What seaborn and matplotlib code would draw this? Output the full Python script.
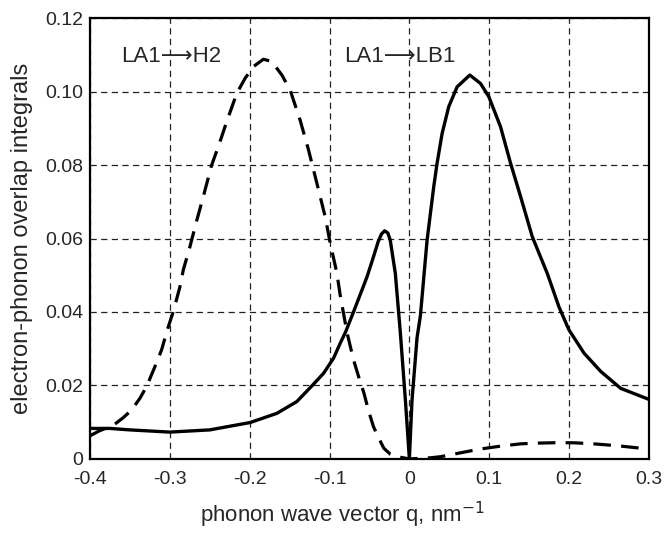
import numpy as np
import pandas as pd
import matplotlib
matplotlib.use("Agg")
import matplotlib.pyplot as plt
import seaborn as sns

# LA1 -> LB1 (solid curve)
q_lb1 = [-0.4, -0.375, -0.35, -0.3, -0.25, -0.1995, -0.166, -0.141, -0.122, -0.1075,
         -0.095, -0.0866, -0.08, -0.07, -0.062, -0.053, -0.045, -0.039, -0.035, -0.031,
         -0.027, -0.024, -0.0176, -0.0113, -0.005, 0.0, 0.0033, 0.0096, 0.0138, 0.0222,
         0.0305, 0.0347, 0.041, 0.0493, 0.0598, 0.0757, 0.0891, 0.0995, 0.1142, 0.1267,
         0.1393, 0.1539, 0.1727, 0.1873, 0.1999, 0.2187, 0.2397, 0.2647, 0.3]
ov_lb1 = [0.0083, 0.0083, 0.0079, 0.0073, 0.0079, 0.0099, 0.0124, 0.0156, 0.0199, 0.0233,
          0.0274, 0.0315, 0.0345, 0.0400, 0.0445, 0.0496, 0.0550, 0.0592, 0.0612, 0.0621,
          0.0615, 0.0596, 0.0505, 0.0343, 0.0160, 0.0, 0.0160, 0.0330, 0.0390, 0.0596,
          0.0741, 0.0805, 0.0886, 0.0959, 0.1013, 0.1045, 0.1022, 0.0986, 0.0904, 0.0805,
          0.0714, 0.0605, 0.0505, 0.0414, 0.0351, 0.0288, 0.0238, 0.0192, 0.0162]

# LA1 -> H2 (dashed curve)
q_h2 = [-0.4, -0.3877, -0.371, -0.3585, -0.3479, -0.3375, -0.3291, -0.3187, -0.3103, -0.3032,
        -0.2957, -0.2873, -0.2832, -0.2748, -0.2673, -0.2581, -0.2476, -0.2393, -0.2288, -0.2162,
        -0.2058, -0.1954, -0.1828, -0.1723, -0.1597, -0.1493, -0.1368, -0.1263, -0.1158, -0.1054,
        -0.0991, -0.0907, -0.0866, -0.078, -0.07, -0.063, -0.057, -0.051, -0.045, -0.038,
        -0.032, -0.024, -0.015, 0.0, 0.026, 0.039, 0.065, 0.089, 0.115, 0.139,
        0.16, 0.181, 0.205, 0.231, 0.26, 0.286, 0.3]
ov_h2 = [0.0063, 0.0077, 0.0091, 0.0112, 0.0133, 0.0165, 0.0197, 0.0251, 0.0297, 0.0351,
         0.0401, 0.0469, 0.0514, 0.0578, 0.0641, 0.0714, 0.0800, 0.0850, 0.0918, 0.0995,
         0.1036, 0.1068, 0.1088, 0.1082, 0.1045, 0.1004, 0.0922, 0.0841, 0.0750, 0.0659,
         0.0587, 0.0505, 0.0445, 0.0343, 0.0270, 0.0220, 0.0180, 0.0130, 0.0088, 0.0055,
         0.0029, 0.0013, 0.0006, 0.0, 0.0003, 0.0006, 0.0017, 0.0027, 0.0035, 0.0041,
         0.0043, 0.0044, 0.0044, 0.0041, 0.0036, 0.0030, 0.0024]

x_ticks = [-0.4, -0.3, -0.2, -0.1, 0.0, 0.1, 0.2, 0.3]
x_ticklabels = ["-0.4", "-0.3", "-0.2", "-0.1", "0", "0.1", "0.2", "0.3"]
y_ticks = [0.0, 0.02, 0.04, 0.06, 0.08, 0.10, 0.12]
y_ticklabels = ["0", "0.02", "0.04", "0.06", "0.08", "0.10", "0.12"]

sns.set_style("white")
plt.rcParams['font.family'] = ['Liberation Sans', 'DejaVu Sans']

fig = plt.figure(figsize=(6.69, 5.33), dpi=100)
ax = fig.add_axes([0.1345, 0.139, 0.8355, 0.827])

sns.lineplot(x=q_lb1, y=ov_lb1, ax=ax, color="black", linewidth=2.4, sort=False)
sns.lineplot(x=q_h2, y=ov_h2, ax=ax, color="black", linewidth=2.3, sort=False)
ax.lines[-1].set_dashes((5.5, 3.2))

ax.set_xlim(-0.4, 0.3)
ax.set_ylim(0, 0.12)
ax.set_xticks(x_ticks)
ax.set_xticklabels(x_ticklabels)
ax.set_yticks(y_ticks)
ax.set_yticklabels(y_ticklabels)
ax.tick_params(axis='both', labelsize=14, length=0)
ax.tick_params(axis='x', pad=9)
ax.tick_params(axis='y', pad=5)

ax.grid(True, color="#222222", linestyle=(0, (5, 3.5)), linewidth=0.9)
ax.set_axisbelow(True)
for s in ax.spines.values():
    s.set_visible(True)
    s.set_color("black")
    s.set_linewidth(1.6)

ax.set_xlabel("phonon wave vector q, nm$^{-1}$", fontsize=16)
ax.xaxis.set_label_coords(0.452, -0.093)
ax.set_ylabel("electron-phonon overlap integrals", fontsize=17)
ax.yaxis.set_label_coords(-0.102, 0.5)

ax.text(-0.361, 0.108, "LA1\u27f6H2", fontsize=16, va="baseline", ha="left")
ax.text(-0.0816, 0.108, "LA1\u27f6LB1", fontsize=16, va="baseline", ha="left")

fig.savefig("out.png", dpi=100)
